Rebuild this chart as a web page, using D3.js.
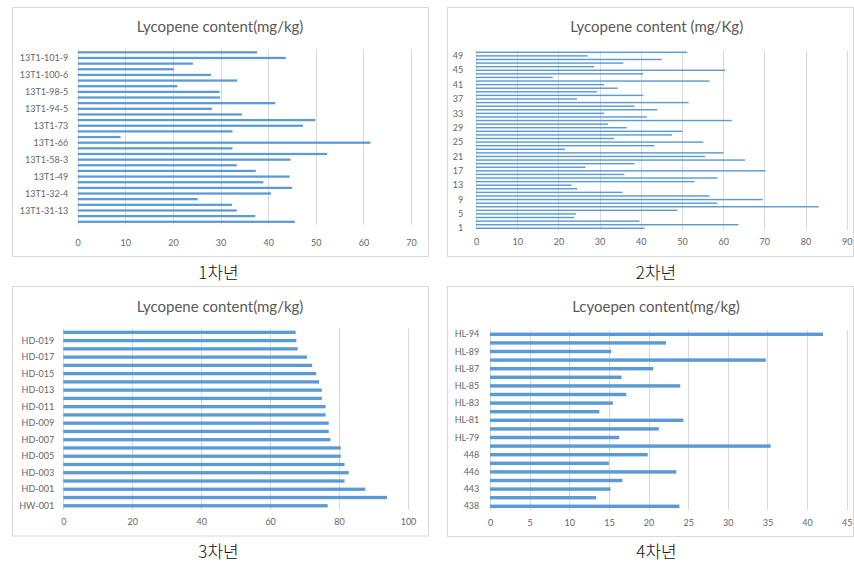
<!DOCTYPE html>
<html><head><meta charset="utf-8">
<script src="https://cdn.jsdelivr.net/npm/d3@7"></script>
<style>
body{margin:0;background:#fff;}
svg text{font-family:Lato,"Open Sans",sans-serif;}
</style>
</head><body>
<svg id="c" width="854" height="564"></svg>
<script>
// ---- DATA (listed top-to-bottom as drawn) ----
const year1Values = [37.7, 43.7, 24.2, 20.2, 28.0, 33.5, 20.9, 29.8, 29.9, 41.5, 28.2, 34.5, 49.9, 47.3, 32.5, 9.0,
  61.5, 32.5, 52.4, 44.7, 33.4, 37.4, 44.5, 39.0, 45.0, 40.6, 25.2, 32.4, 33.4, 37.3, 45.6];
const year1Labels = ["", "13T1-101-9", "", "", "13T1-100-6", "", "", "13T1-98-5", "", "", "13T1-94-5", "", "",
  "13T1-73", "", "", "13T1-66", "", "", "13T1-58-3", "", "", "13T1-49", "", "", "13T1-32-4", "", "", "13T1-31-13", "", ""];
const year1XTicks = [0, 10, 20, 30, 40, 50, 60, 70];

const year2Values = [51.3, 27.1, 45.1, 35.8, 28.7, 60.5, 40.6, 18.6, 56.7, 31.1, 34.4, 29.4, 40.6, 24.5, 51.6, 38.5,
  44.0, 31.1, 41.5, 62.1, 32.1, 36.6, 50.1, 47.6, 33.5, 55.2, 43.3, 21.6, 60.1, 55.6, 65.3, 38.5, 26.6, 70.3, 36.0,
  58.6, 53.0, 23.2, 24.6, 35.6, 56.7, 69.6, 58.5, 83.2, 48.9, 24.3, 23.8, 39.7, 63.7, 40.9];
const year2Labels = ["", "49", "", "", "", "45", "", "", "", "41", "", "", "", "37", "", "", "", "33", "", "", "", "29",
  "", "", "", "25", "", "", "", "21", "", "", "", "17", "", "", "", "13", "", "", "", "9", "", "", "", "5", "", "", "", "1"];
const year2XTicks = [0, 10, 20, 30, 40, 50, 60, 70, 80, 90];

const year3Values = [67.4, 67.6, 68.0, 70.7, 72.2, 73.4, 74.2, 75.0, 75.0, 76.1, 76.1, 77.0, 77.0, 77.5, 80.5, 80.5,
  81.6, 82.8, 81.6, 87.6, 93.9, 76.7];
const year3Labels = ["", "HD-019", "", "HD-017", "", "HD-015", "", "HD-013", "", "HD-011", "", "HD-009", "", "HD-007",
  "", "HD-005", "", "HD-003", "", "HD-001", "", "HW-001"];
const year3XTicks = [0, 20, 40, 60, 80, 100];

const year4Values = [42.0, 22.2, 15.3, 34.8, 20.6, 16.6, 24.0, 17.2, 15.5, 13.8, 24.4, 21.3, 16.3, 35.4, 19.9, 15.0,
  23.5, 16.7, 15.2, 13.4, 23.9];
const year4Labels = ["HL-94", "", "HL-89", "", "HL-87", "", "HL-85", "", "HL-83", "", "HL-81", "", "HL-79", "", "448",
  "", "446", "", "443", "", "438"];
const year4XTicks = [0, 5, 10, 15, 20, 25, 30, 35, 40, 45];

const titles = ["Lycopene content(mg/kg)", "Lycopene content (mg/Kg)", "Lycopene content(mg/kg)", "Lcyoepen content(mg/kg)"];
const captions = ["1차년", "2차년", "3차년", "4차년"];

// ---- LAYOUT ----
const panels = [
  {values: year1Values, labels: year1Labels, ticks: year1XTicks, box: [12.5, 7.5, 416, 249],
   plot: [77.7, 411, 49.5, 224.6], title: [220, 27], caption: [218.5, 273], yLabX: 68.3, xLabY: 243.3},
  {values: year2Values, labels: year2Labels, ticks: year2XTicks, box: [447.5, 7.5, 406, 249],
   plot: [476, 846.7, 50.5, 230.1], title: [656.7, 27], caption: [656, 273], yLabX: 463.3, xLabY: 242.3},
  {values: year3Values, labels: year3Labels, ticks: year3XTicks, box: [12.5, 286.5, 416, 249.5],
   plot: [63.3, 408, 328.2, 509.9], title: [220, 306.7], caption: [218.5, 552], yLabX: 54.3, xLabY: 522.3},
  {values: year4Values, labels: year4Labels, ticks: year4XTicks, box: [447.5, 286.5, 406, 250],
   plot: [490, 846.7, 330, 510.6], title: [656, 306.7], caption: [656.5, 552.5], yLabX: 479.3, xLabY: 523.3}
];

const svg = d3.select("#c");
const barColor = "#5B9BD5", gridColor = "#d9d9d9", textColor = "#666666";

panels.forEach((p, k) => {
  const g = svg.append("g");
  g.append("rect").attr("x", p.box[0]).attr("y", p.box[1]).attr("width", p.box[2]).attr("height", p.box[3])
    .attr("fill", "#fff").attr("stroke", gridColor).attr("stroke-width", 1);

  const [l, r, t, b] = p.plot;
  const x = d3.scaleLinear().domain([p.ticks[0], p.ticks[p.ticks.length - 1]]).range([l, r]);
  const y = d3.scaleBand().domain(d3.range(p.values.length)).range([t, b]).paddingInner(0.6).paddingOuter(0.3);

  // gridlines
  g.append("g").selectAll("line").data(p.ticks).join("line")
    .attr("x1", d => Math.round(x(d)) + 0.5).attr("x2", d => Math.round(x(d)) + 0.5)
    .attr("y1", t).attr("y2", b).attr("stroke", gridColor).attr("stroke-width", 1);

  // x axis labels via d3 axis
  const ax = g.append("g").attr("transform", `translate(0,${p.xLabY})`)
    .call(d3.axisBottom(x).tickValues(p.ticks).tickSize(0).tickPadding(0).tickFormat(d3.format("d")));
  ax.select(".domain").remove();
  ax.selectAll("text").attr("fill", textColor).attr("font-size", "9px").attr("dy", "0.35em")
    .style("font-family", "Lato, 'Open Sans', sans-serif");

  // bars
  g.append("g").selectAll("rect").data(p.values).join("rect")
    .attr("x", x(0)).attr("y", (d, i) => y(i)).attr("height", y.bandwidth())
    .attr("width", d => x(d) - x(0)).attr("fill", barColor);

  // y labels
  g.append("g").selectAll("text").data(p.labels.map((s, i) => ({s, i})).filter(d => d.s !== "")).join("text")
    .attr("x", p.yLabX).attr("y", d => y(d.i) + y.bandwidth() / 2).attr("dy", "0.35em")
    .attr("text-anchor", "end").attr("fill", textColor).attr("font-size", "9px").text(d => d.s);

  // title
  g.append("text").attr("x", p.title[0]).attr("y", p.title[1]).attr("dy", "0.35em").attr("text-anchor", "middle")
    .attr("fill", "#595959").attr("font-size", "15px").text(titles[k]);

  // caption
  g.append("text").attr("x", p.caption[0]).attr("y", p.caption[1]).attr("dy", "0.35em").attr("text-anchor", "middle")
    .attr("fill", "#111").attr("font-size", "17px").attr("font-weight", 300)
    .style("font-family", "'Noto Sans CJK KR', sans-serif")
    .text(captions[k]);
});
</script>
</body></html>
